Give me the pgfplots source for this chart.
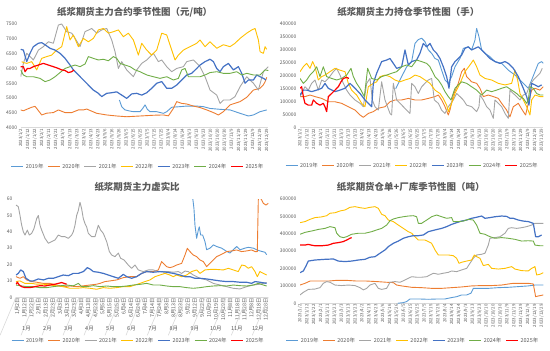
\documentclass[border=0pt]{standalone}
\usepackage{fontspec}
\setmainfont{Noto Sans CJK SC}
\usepackage{pgfplots}
\pgfplotsset{compat=1.18}
\definecolor{c19}{HTML}{5B9BD5}
\definecolor{c20}{HTML}{ED7D31}
\definecolor{c21}{HTML}{A5A5A5}
\definecolor{c22}{HTML}{FFC000}
\definecolor{c23}{HTML}{4472C4}
\definecolor{c24}{HTML}{70AD47}
\definecolor{c25}{HTML}{FF0000}
\definecolor{txt}{HTML}{595959}
\definecolor{axgray}{HTML}{D9D9D9}
\tikzset{
 mlab/.style={font=\fontsize{5.5}{6}\selectfont, text=txt, yshift=-31.5bp},
 msep/.style={draw=axgray, line width=0.6bp},
}
\pgfplotsset{
 panel/.style={
  scale only axis,
  axis x line*=bottom, axis y line*=left,
  x axis line style={draw=axgray, line width=0.6bp, -},
  y axis line style={draw=none},
  tick style={draw=none},
  tick label style={text=txt},
  /pgf/number format/assume math mode=true,
  yticklabel style={font=\fontsize{5}{6}\selectfont, /pgf/number format/fixed, /pgf/number format/1000 sep={}},
  xticklabel style={font=\fontsize{4.4}{5}\selectfont, rotate=90, anchor=east, inner sep=1bp},
  scaled y ticks=false,
  legend columns=7,
  legend style={draw=none, fill=none, font=\fontsize{5.5}{6}\selectfont, text=txt, anchor=center,
     /tikz/every even column/.append style={column sep=2bp}, inner sep=0pt},
  legend image code/.code={\draw[#1] (0bp,0bp) -- (12bp,0bp);},
  legend entries={2019年,2020年,2021年,2022年,2023年,2024年,2025年},
  every axis plot/.append style={line width=0.9bp, mark=none, line join=round},
  title style={font=\bfseries\fontsize{9.5}{10}\selectfont, text=txt, anchor=center, yshift=6bp},
  clip mode=individual,
 },
 datelab/.style={
  xticklabels={2023/1/2,2023/1/12,2023/1/22,2023/2/1,2023/2/11,2023/2/21,2023/3/3,2023/3/13,2023/3/23,2023/4/2,2023/4/13,2023/4/23,2023/5/6,2023/5/16,2023/5/26,2023/6/5,2023/6/15,2023/6/25,2023/7/5,2023/7/15,2023/7/25,2023/8/4,2023/8/14,2023/8/24,2023/9/3,2023/9/13,2023/9/23,2023/10/10,2023/10/20,2023/10/30,2023/11/9,2023/11/19,2023/11/29,2023/12/9,2023/12/19,2023/12/29}
 },
}
\begin{document}
\begin{tikzpicture}
\path[use as bounding box] (0,0) rectangle (550bp,351bp);
% ---------------- Panel 1 ----------------
\begin{axis}[panel, datelab, at={(20.7bp,223.3bp)}, anchor=south west,
  width=247.7bp, height=103.7bp, xmin=62, xmax=805, ymin=4000, ymax=7500,
  ytick={4000,4500,5000,5500,6000,6500,7000,7500},
  xtick={62,83.09,...,801},
  title={纸浆期货主力合约季节性图（元/吨）},
  title style={at={(axis description cs:0.46,1)}},
  legend style={at={(axis description cs:0.474,-0.376)}}]
\addplot[c19] coordinates {(358,4935)(365,4710)(375,4600)(390,4560)(400,4540)(420,4540)(428,4650)(435,4770)(442,4620)(450,4540)(470,4540)(490,4485)(500,4540)(515,4690)(540,4710)(560,4730)(590,4730)(610,4710)(630,4650)(660,4620)(690,4600)(720,4485)(745,4395)(760,4430)(780,4540)(800,4600)};
\addplot[c20] coordinates {(62,4600)(70,4570)(80,4620)(95,4690)(105,4720)(110,4650)(125,4430)(140,4490)(160,4510)(175,4600)(195,4510)(215,4510)(235,4600)(250,4600)(260,4630)(290,4485)(320,4430)(350,4395)(380,4370)(420,4395)(460,4420)(490,4430)(505,4400)(520,4650)(530,4880)(545,4820)(560,4800)(580,4730)(600,4680)(620,4600)(640,4510)(655,4430)(670,4540)(690,4770)(720,4880)(740,5025)(760,5270)(780,5330)(790,5450)(795,5550)(800,5700)};
\addplot[c21] coordinates {(62,5720)(70,6170)(80,6510)(90,6400)(100,6285)(115,6620)(130,6735)(145,6900)(160,6850)(175,7465)(185,7500)(200,7240)(215,7190)(225,7020)(240,6735)(255,7240)(275,7350)(290,7190)(305,7300)(320,7350)(335,6960)(345,6565)(355,6000)(365,6230)(380,5950)(400,5720)(410,5950)(425,6170)(440,6285)(460,6510)(475,6230)(485,6285)(500,6060)(515,5890)(530,6000)(550,6060)(560,6230)(580,6285)(600,6060)(615,5720)(630,5270)(650,5100)(660,4820)(670,4935)(690,4935)(705,5050)(720,5385)(740,5720)(760,5500)(775,5270)(790,5890)(805,6060)};
\addplot[c22] coordinates {(65,6230)(70,6200)(80,6170)(95,6230)(110,5950)(125,6340)(140,6400)(155,6450)(170,6620)(185,6735)(195,7190)(200,7410)(210,6960)(220,7130)(235,6735)(250,7015)(265,6900)(280,7015)(295,7300)(310,7350)(325,7190)(340,7240)(355,7300)(370,7070)(385,7190)(400,6960)(415,6450)(425,6850)(440,6620)(455,6450)(470,6620)(485,7190)(500,7130)(515,6620)(525,6285)(535,6450)(550,6620)(570,6735)(590,6850)(600,6960)(615,6735)(630,6900)(650,6680)(670,6800)(690,6735)(705,6850)(720,7015)(740,7190)(755,7300)(765,7350)(775,6960)(780,6565)(790,6510)(795,6735)(800,6645)};
\addplot[c23, line width=1.2bp] coordinates {(62,6645)(70,6620)(80,6230)(90,6510)(100,6735)(115,6850)(125,6870)(135,6800)(150,6680)(165,6620)(180,6510)(195,6340)(210,6115)(220,5950)(235,5780)(250,5610)(265,5440)(280,5270)(295,5160)(305,5050)(320,5160)(335,5180)(350,5210)(365,5100)(380,4990)(395,5140)(410,5160)(425,5100)(440,5180)(455,5330)(470,5500)(485,5555)(500,5330)(515,5330)(530,5440)(545,5610)(560,5780)(575,5835)(590,6000)(600,6115)(615,6230)(630,6310)(640,6230)(650,6000)(660,5890)(670,6060)(685,6170)(700,5950)(715,6060)(725,5835)(735,5500)(745,5610)(760,5610)(770,5780)(780,5720)(790,5665)(798,5610)};
\addplot[c24] coordinates {(62,5950)(70,5780)(80,5720)(100,5720)(120,5665)(135,5555)(150,5610)(165,5720)(180,5860)(195,6000)(210,6060)(225,6115)(240,6060)(255,6150)(265,6400)(280,6340)(295,6285)(310,6310)(325,6260)(340,6400)(350,6340)(360,6170)(375,6115)(390,6060)(405,5950)(420,5890)(440,5780)(460,5720)(480,5665)(500,5720)(520,5610)(535,5665)(545,5950)(555,6000)(565,5720)(580,5720)(600,5720)(615,5780)(630,5860)(650,5890)(670,5835)(690,5835)(710,5890)(725,5780)(740,5835)(760,5780)(780,5780)(795,5950)(805,5930)};
\addplot[c25, line width=1.2bp] coordinates {(62,6060)(70,6060)(75,5890)(82,6000)(90,6000)(100,6060)(115,6115)(130,6170)(145,6115)(160,6060)(175,6000)(185,5950)(195,5930)(205,5860)(215,5890)(222,5950)};
\end{axis}
% ---------------- Panel 2 ----------------
\begin{axis}[panel, datelab, at={(300bp,223.3bp)}, anchor=south west,
  width=243.3bp, height=103.7bp, xmin=75, xmax=805, ymin=0, ymax=400000,
  ytick={0,50000,100000,150000,200000,250000,300000,350000,400000},
  xtick={75,95.71,...,801},
  title={纸浆期货主力持仓季节性图（手）},
  title style={at={(axis description cs:0.445,1)}},
  legend style={at={(axis description cs:0.462,-0.366)}}]
\addplot[c19] coordinates {(362,150000)(380,197000)(395,235000)(410,255000)(420,325000)(430,340000)(440,345000)(450,332000)(460,300000)(470,287000)(480,267000)(490,261000)(500,222000)(510,184000)(520,171000)(530,197000)(540,235000)(555,267000)(565,306000)(580,312000)(590,300000)(600,338000)(605,383000)(612,351000)(620,300000)(630,287000)(645,274000)(660,255000)(680,248000)(700,222000)(720,203000)(735,184000)(750,165000)(760,152000)(770,184000)(780,216000)(790,248000)(800,255000)(805,248000)};
\addplot[c20] coordinates {(75,120000)(90,120000)(105,126000)(120,120000)(140,113000)(160,100000)(180,100000)(200,94000)(220,81000)(240,68000)(255,49000)(265,40000)(280,55000)(295,62000)(310,75000)(330,81000)(345,100000)(360,107000)(380,107000)(400,113000)(420,107000)(440,107000)(460,113000)(480,120000)(490,126000)(500,107000)(510,81000)(520,49000)(525,68000)(535,126000)(550,171000)(560,216000)(568,229000)(575,197000)(590,177000)(605,171000)(615,152000)(625,120000)(640,126000)(655,120000)(670,113000)(680,94000)(695,68000)(705,42000)(715,81000)(730,94000)(745,62000)(752,49000)(760,94000)(770,145000)(780,152000)(795,145000)(805,158000)};
\addplot[c21] coordinates {(75,120000)(90,158000)(100,145000)(110,171000)(120,184000)(130,145000)(140,184000)(150,177000)(160,190000)(175,216000)(185,229000)(195,203000)(205,171000)(215,145000)(225,126000)(240,107000)(255,94000)(265,81000)(275,171000)(285,190000)(292,107000)(300,81000)(310,68000)(320,177000)(330,107000)(345,55000)(350,49000)(355,171000)(365,107000)(375,94000)(385,81000)(395,68000)(405,55000)(410,171000)(420,158000)(430,132000)(440,158000)(450,171000)(460,184000)(470,190000)(478,107000)(490,94000)(500,68000)(510,55000)(520,81000)(535,107000)(545,132000)(555,120000)(565,107000)(575,87000)(590,81000)(605,62000)(612,81000)(615,126000)(625,107000)(635,81000)(645,68000)(655,36000)(660,107000)(670,94000)(680,81000)(690,55000)(700,36000)(705,145000)(715,132000)(725,120000)(735,107000)(745,126000)(755,132000)(765,165000)(775,184000)(785,197000)(795,210000)(802,229000)};
\addplot[c22] coordinates {(75,216000)(85,235000)(95,248000)(105,229000)(113,255000)(120,235000)(130,184000)(140,197000)(150,203000)(165,216000)(180,229000)(195,222000)(210,216000)(220,171000)(230,145000)(245,126000)(260,94000)(270,81000)(280,158000)(295,171000)(305,177000)(315,197000)(330,203000)(345,197000)(360,184000)(375,177000)(390,184000)(405,190000)(420,203000)(435,197000)(450,184000)(465,171000)(480,145000)(495,132000)(505,113000)(515,87000)(520,62000)(530,94000)(540,132000)(555,171000)(570,216000)(585,242000)(595,261000)(605,235000)(615,203000)(630,190000)(650,184000)(670,171000)(690,165000)(710,171000)(720,222000)(728,184000)(735,132000)(745,107000)(755,81000)(765,49000)(770,107000)(780,126000)(795,120000)(805,120000)};
\addplot[c23, line width=1.2bp] coordinates {(75,126000)(85,145000)(95,145000)(110,139000)(125,145000)(140,152000)(150,171000)(160,152000)(180,139000)(195,145000)(210,152000)(225,171000)(240,152000)(255,132000)(270,107000)(280,94000)(290,81000)(295,171000)(305,210000)(320,255000)(335,261000)(345,267000)(355,248000)(365,229000)(380,235000)(390,300000)(400,242000)(410,255000)(425,261000)(435,287000)(445,325000)(455,312000)(465,325000)(475,300000)(485,287000)(495,267000)(505,235000)(515,197000)(522,152000)(530,235000)(540,255000)(550,267000)(560,280000)(570,306000)(580,312000)(590,300000)(600,306000)(610,312000)(620,300000)(630,287000)(645,267000)(660,255000)(675,248000)(690,255000)(700,248000)(715,229000)(730,197000)(745,152000)(755,120000)(762,87000)(770,171000)(780,165000)(790,158000)(800,165000)};
\addplot[c24] coordinates {(75,190000)(85,171000)(95,184000)(105,203000)(115,216000)(125,235000)(135,197000)(145,235000)(155,197000)(170,190000)(185,184000)(200,190000)(215,203000)(228,229000)(235,197000)(245,171000)(255,152000)(268,120000)(278,229000)(290,190000)(305,184000)(320,197000)(335,203000)(350,210000)(365,216000)(380,235000)(395,242000)(410,235000)(425,261000)(440,255000)(455,248000)(465,235000)(480,197000)(490,184000)(500,165000)(510,139000)(520,120000)(528,107000)(540,152000)(550,165000)(560,177000)(575,171000)(590,158000)(605,145000)(620,126000)(635,145000)(650,139000)(665,145000)(680,152000)(695,158000)(710,145000)(725,132000)(735,120000)(745,113000)(755,94000)(760,107000)(765,158000)(775,152000)(785,132000)(795,126000)(805,126000)};
\addplot[c25, line width=1.2bp] coordinates {(75,152000)(80,158000)(85,120000)(90,94000)(100,87000)(110,87000)(115,107000)(125,94000)(135,87000)(145,94000)(150,81000)(155,62000)(160,120000)(170,132000)(180,145000)(190,158000)(198,177000)(205,190000)(215,194000)(222,190000)};
\end{axis}
% ---------------- Panel 3 ----------------
\begin{axis}[panel, at={(16bp,53.7bp)}, anchor=south west,
  width=252.3bp, height=98.3bp, xmin=48, xmax=805, ymin=0, ymax=60,
  ytick={0,10,20,30,40,50,60},
  xtick={52,73.3,...,800},
  xticklabel style={font=\fontsize{5.3}{6}\selectfont},
  xticklabels={1月2日,1月12日,1月22日,2月1日,2月13日,2月23日,3月3日,3月13日,3月23日,4月3日,4月13日,4月23日,5月5日,5月15日,5月25日,6月4日,6月14日,6月24日,7月4日,7月14日,7月24日,8月3日,8月13日,8月23日,9月2日,9月12日,9月22日,10月9日,10月19日,10月29日,11月8日,11月18日,11月28日,12月8日,12月18日,12月28日},
  title={纸浆期货主力虚实比},
  title style={at={(axis description cs:0.48,1)}},
  legend style={at={(axis description cs:0.485,-0.441)}}]
\addplot[c19] coordinates {(578,61)(582,54)(585,44)(590,36)(595,41)(598,43)(602,38)(608,38)(615,34)(620,29)(630,30)(640,32)(650,31)(665,30)(680,28)(690,27)(700,29)(710,31)(720,29)(735,30)(745,30.5)(760,30)(770,29)(785,28)(795,27.5)(800,26)};
\addplot[c20] coordinates {(48,12.6)(60,11.6)(70,12.6)(80,10.6)(95,9.6)(110,9.2)(130,8.5)(150,8.5)(170,7.5)(190,6.5)(210,6.9)(230,6.5)(250,7)(270,7.5)(290,8)(300,8.5)(315,9.6)(330,10)(350,10.6)(370,12)(390,12.6)(410,12.6)(425,14.6)(440,15.7)(460,15.7)(475,16.7)(485,21.8)(490,20.7)(500,18.7)(510,18.1)(520,18.7)(530,19.7)(545,20.7)(555,25.8)(562,29.9)(570,27.9)(580,25.8)(590,24.8)(600,22.8)(610,21.8)(620,18.7)(630,20.7)(640,22.8)(650,24.8)(660,25.8)(670,26.8)(680,27.9)(695,28.3)(710,28.9)(725,27.9)(740,28.3)(755,28.9)(765,27.9)(772,27.9)(775,59.4)(778,62)(785,59.4)(790,57.4)(798,56.3)(805,57.4)};
\addplot[c21] coordinates {(48,56.3)(55,55.3)(60,50)(65,44)(70,40)(75,38)(82,41)(88,38)(95,39)(102,42)(110,48)(115,50)(120,44)(125,41)(135,36)(145,33)(155,34)(165,35)(175,38)(185,37)(195,37)(205,36)(215,38)(220,40)(225,44)(230,50)(235,53)(240,58)(245,54)(250,48)(255,45)(260,43)(265,39)(275,37)(285,37)(295,44)(302,41)(310,39)(320,34)(328,28)(335,25.8)(345,24.8)(355,27)(362,23.8)(372,22.8)(385,19.7)(395,17.7)(405,19.7)(415,16.7)(430,15.7)(445,16.7)(460,16.7)(475,15.7)(490,15.7)(505,15.7)(520,15.3)(535,15.7)(545,14.6)(555,16)(565,15.7)(580,13.6)(600,11.6)(620,10.6)(640,8.5)(660,7.5)(680,6.5)(700,5.5)(720,5.1)(740,6.5)(760,7.5)(780,8)(800,9)};
\addplot[c22] coordinates {(48,9.6)(60,10)(75,8.5)(95,8.5)(110,8)(130,8)(150,7.5)(170,7)(190,6.5)(210,5.5)(230,5.5)(250,5.9)(270,5.5)(290,4.9)(310,5.9)(330,5.5)(350,5.9)(370,6.5)(390,6.5)(405,7.5)(420,8.5)(435,9.6)(450,10.6)(465,12.6)(480,13.6)(495,14.6)(510,13.6)(520,12.6)(530,13.6)(545,12.6)(560,13.6)(575,15.7)(590,16.7)(600,14.6)(615,16.7)(630,17)(650,17)(670,16.7)(685,17.7)(700,16.7)(715,15.7)(725,19.7)(735,19.3)(745,17.7)(755,18.7)(765,15.7)(772,12.6)(780,15.7)(790,14.6)(800,13.6)};
\addplot[c23, line width=1.2bp] coordinates {(48,13.6)(55,14.6)(62,16.7)(70,15.7)(78,11.6)(90,10)(100,10)(115,11.2)(130,10.6)(145,11.6)(160,11.6)(175,12.6)(190,13.6)(205,13.2)(220,14.6)(235,14.6)(250,15.7)(262,18.1)(270,17.3)(280,15.7)(295,15.3)(310,14.6)(325,13.6)(340,12.6)(355,11.6)(370,14)(380,12.6)(395,11.6)(410,12.6)(425,14.6)(440,15.7)(460,15.3)(480,15.7)(500,15.3)(520,14.6)(540,13.6)(555,12.6)(570,12.6)(585,11.6)(600,11.6)(620,11.2)(640,10.6)(660,10)(680,9.6)(700,9.6)(720,9.2)(740,9.2)(755,8.5)(765,9.6)(780,9.2)(800,8.5)};
\addplot[c24] coordinates {(48,7.5)(60,7.1)(80,6.5)(100,6.5)(120,5.9)(140,5.9)(160,6.5)(180,7)(200,7.5)(220,7)(235,8.5)(245,6.5)(260,6.5)(280,7.1)(300,6.5)(320,6.9)(340,6.5)(360,6.5)(380,6.9)(400,7.5)(420,7.9)(440,8.5)(460,7.5)(480,7.5)(500,6.9)(520,6.5)(540,6.5)(560,5.9)(580,5.5)(600,5.9)(620,6.5)(640,6.9)(660,7.1)(680,6.9)(700,7.5)(720,7.1)(740,6.9)(760,7.5)(775,8.5)(790,7.5)(800,6.9)};
\addplot[c25, line width=1.2bp] coordinates {(48,8)(52,9.2)(58,7.5)(65,6.5)(75,5.9)(90,5.9)(105,6.5)(120,7.1)(135,6.9)(150,7.5)(165,8)(175,8.5)(185,9)(195,8.3)(200,8)};
\draw[msep] (axis cs:48,0) -- ++(0,-38bp);
\draw[msep] (axis cs:111,0) -- ++(0,-38bp);
\draw[msep] (axis cs:174,0) -- ++(0,-38bp);
\draw[msep] (axis cs:237,0) -- ++(0,-38bp);
\draw[msep] (axis cs:300,0) -- ++(0,-38bp);
\draw[msep] (axis cs:363,0) -- ++(0,-38bp);
\draw[msep] (axis cs:426,0) -- ++(0,-38bp);
\draw[msep] (axis cs:490,0) -- ++(0,-38bp);
\draw[msep] (axis cs:553,0) -- ++(0,-38bp);
\draw[msep] (axis cs:616,0) -- ++(0,-38bp);
\draw[msep] (axis cs:679,0) -- ++(0,-38bp);
\draw[msep] (axis cs:742,0) -- ++(0,-38bp);
\draw[msep] (axis cs:805,0) -- ++(0,-38bp);
\node[mlab] at (axis cs:79.5,0) {1月};
\node[mlab] at (axis cs:142.5,0) {2月};
\node[mlab] at (axis cs:205.5,0) {3月};
\node[mlab] at (axis cs:268.5,0) {4月};
\node[mlab] at (axis cs:331.5,0) {5月};
\node[mlab] at (axis cs:394.5,0) {6月};
\node[mlab] at (axis cs:458,0) {7月};
\node[mlab] at (axis cs:521.5,0) {8月};
\node[mlab] at (axis cs:584.5,0) {9月};
\node[mlab] at (axis cs:647.5,0) {10月};
\node[mlab] at (axis cs:710.5,0) {11月};
\node[mlab] at (axis cs:773.5,0) {12月};
\end{axis}
% ---------------- Panel 4 ----------------
\begin{axis}[panel, datelab, at={(300bp,47.7bp)}, anchor=south west,
  width=243.3bp, height=104.3bp, xmin=75, xmax=805, ymin=0, ymax=600000,
  ytick={0,100000,200000,300000,400000,500000,600000},
  xtick={75,95.71,...,801},
  title={纸浆期货仓单+厂库季节性图（吨）},
  title style={at={(axis description cs:0.455,1)}},
  legend style={at={(axis description cs:0.465,-0.359)}}]
\addplot[c19] coordinates {(368,0)(385,4000)(395,10000)(405,25000)(430,25000)(460,23000)(490,25000)(510,25000)(530,33000)(545,38000)(560,48000)(575,48000)(588,58000)(595,86000)(610,86000)(640,86000)(670,90000)(700,92000)(730,96000)(760,100000)(780,105000)(805,105000)};
\addplot[c20] coordinates {(75,105000)(90,115000)(105,128000)(130,128000)(160,128000)(185,132000)(215,132000)(245,128000)(275,128000)(305,125000)(335,121000)(355,119000)(365,105000)(380,100000)(410,92000)(440,90000)(470,86000)(500,86000)(530,90000)(560,94000)(590,100000)(620,102000)(650,102000)(680,105000)(700,111000)(715,115000)(740,115000)(760,115000)(775,111000)(782,38000)(790,42000)(805,48000)};
\addplot[c21] coordinates {(75,48000)(85,63000)(100,80000)(120,82000)(135,90000)(145,115000)(155,125000)(165,121000)(180,105000)(200,102000)(220,105000)(240,102000)(255,90000)(265,77000)(275,86000)(285,105000)(300,115000)(310,86000)(320,80000)(335,86000)(345,121000)(360,125000)(375,121000)(390,134000)(400,144000)(410,153000)(425,150000)(440,150000)(455,153000)(465,163000)(475,173000)(490,167000)(505,173000)(520,178000)(530,186000)(545,182000)(560,192000)(575,201000)(585,230000)(595,259000)(605,278000)(620,282000)(630,288000)(640,335000)(645,374000)(660,378000)(675,383000)(690,403000)(700,431000)(710,435000)(725,431000)(740,435000)(755,441000)(770,450000)(780,460000)(790,460000)(805,460000)};
\addplot[c22] coordinates {(75,464000)(90,470000)(105,483000)(120,493000)(140,497000)(155,504000)(165,518000)(180,521000)(195,531000)(210,537000)(225,552000)(240,556000)(255,550000)(270,546000)(285,552000)(300,556000)(310,546000)(320,512000)(330,504000)(340,479000)(355,470000)(370,450000)(385,431000)(400,412000)(410,403000)(420,383000)(430,364000)(450,364000)(460,355000)(470,345000)(480,307000)(490,278000)(505,278000)(520,278000)(535,274000)(545,259000)(552,230000)(560,236000)(575,243000)(590,249000)(598,278000)(605,268000)(615,259000)(625,217000)(640,224000)(650,201000)(670,197000)(690,201000)(710,211000)(720,197000)(740,188000)(760,186000)(770,201000)(780,211000)(785,163000)(795,167000)(805,176000)};
\addplot[c23, line width=1.2bp] coordinates {(75,176000)(85,186000)(92,211000)(100,243000)(120,249000)(150,253000)(175,255000)(190,243000)(210,240000)(230,243000)(250,249000)(270,253000)(285,265000)(300,268000)(315,288000)(330,307000)(340,326000)(355,345000)(370,358000)(385,374000)(400,383000)(415,389000)(430,389000)(445,393000)(460,412000)(480,422000)(500,431000)(515,441000)(530,454000)(545,464000)(560,473000)(575,479000)(590,489000)(605,495000)(620,502000)(630,489000)(645,493000)(660,498000)(680,502000)(695,500000)(705,489000)(715,489000)(730,479000)(745,473000)(760,470000)(775,460000)(782,383000)(790,383000)(800,393000)};
\addplot[c24] coordinates {(75,397000)(90,408000)(110,416000)(130,425000)(150,431000)(165,441000)(180,435000)(185,403000)(195,383000)(205,378000)(215,383000)(230,397000)(250,403000)(270,403000)(290,412000)(305,422000)(320,431000)(335,450000)(345,475000)(355,485000)(370,493000)(385,498000)(400,502000)(415,504000)(425,498000)(430,460000)(440,460000)(455,479000)(470,498000)(485,508000)(500,498000)(515,489000)(530,493000)(535,470000)(550,470000)(565,473000)(580,483000)(595,479000)(605,450000)(615,403000)(630,397000)(645,383000)(660,374000)(680,378000)(700,374000)(720,368000)(740,358000)(760,360000)(775,358000)(780,335000)(795,331000)(805,331000)};
\addplot[c25, line width=1.2bp] coordinates {(75,335000)(90,335000)(100,339000)(108,335000)(120,331000)(140,331000)(160,335000)(175,345000)(190,349000)(205,355000)(215,364000)(225,374000)(230,378000)};
\end{axis}
\end{tikzpicture}
\end{document}
